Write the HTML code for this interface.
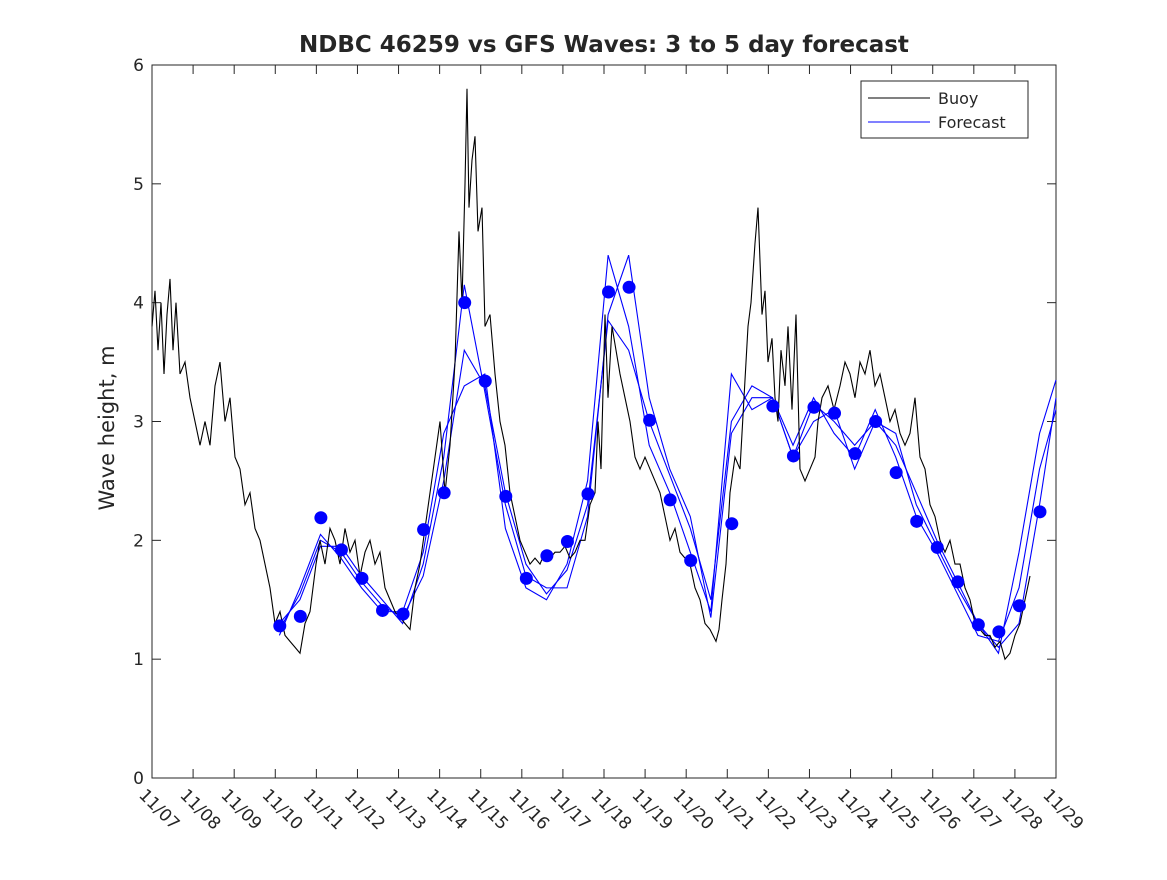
<!DOCTYPE html>
<html><head><meta charset="utf-8"><style>
body{margin:0;background:#fff;font-family:"Liberation Sans","DejaVu Sans",sans-serif}
svg text{font-family:"DejaVu Sans","Liberation Sans",sans-serif;fill:#262626}
</style></head><body>
<svg id="c" width="1167" height="875" xmlns="http://www.w3.org/2000/svg">
<rect width="1167" height="875" fill="#fff"/>
<text x="604" y="52" text-anchor="middle" font-size="23" font-weight="bold">NDBC 46259 vs GFS Waves: 3 to 5 day forecast</text>
<text transform="translate(114,428) rotate(-90)" text-anchor="middle" font-size="21">Wave height, m</text>
<g id="axes"></g><g id="series"></g>
<g>
<rect x="861" y="81" width="167" height="57" fill="#fff" stroke="#262626" stroke-width="1"/>
<line x1="868" y1="98" x2="930" y2="98" stroke="#000"/>
<text x="938" y="104" font-size="16">Buoy</text>
<line x1="868" y1="122" x2="930" y2="122" stroke="#00f"/>
<text x="938" y="128" font-size="16">Forecast</text>
</g>
</svg>
<script>
const xTickLabels=["11/07","11/08","11/09","11/10","11/11","11/12","11/13","11/14","11/15","11/16","11/17","11/18","11/19","11/20","11/21","11/22","11/23","11/24","11/25","11/26","11/27","11/28","11/29"];
const yTicks=[0,1,2,3,4,5,6];
const buoyX=[152,155,158,161,164,167,170,173,176,180,185,190,195,200,205,210,215,220,225,230,235,240,245,250,255,260,265,270,275,280,285,290,295,300,305,310,316,320,325,330,335,340,345,350,355,360,365,370,375,380,385,390,395,400,405,410,415,420,425,430,435,440,445,450,455,459,462,465,467,469,472,475,478,482,485,490,495,500,505,510,515,520,525,530,535,540,545,550,555,560,565,570,575,580,585,590,595,598,601,605,608,612,616,620,625,630,635,640,645,650,655,660,665,670,675,680,685,690,695,700,705,710,713,716,719,722,726,730,735,740,744,748,751,755,758,762,765,768,772,775,778,781,785,788,792,796,800,805,810,815,818,822,828,834,840,845,850,855,860,865,870,875,880,885,890,895,900,905,910,915,920,925,930,935,940,945,950,955,960,965,970,975,980,985,990,995,1000,1005,1010,1015,1020,1025,1030];
const buoyV=[3.8,4.1,3.6,4.0,3.4,3.9,4.2,3.6,4.0,3.4,3.5,3.2,3.0,2.8,3.0,2.8,3.3,3.5,3.0,3.2,2.7,2.6,2.3,2.4,2.1,2.0,1.8,1.6,1.3,1.4,1.2,1.15,1.1,1.05,1.3,1.4,1.8,2.0,1.8,2.1,2.0,1.8,2.1,1.9,2.0,1.7,1.9,2.0,1.8,1.9,1.6,1.5,1.4,1.35,1.3,1.25,1.6,1.8,2.1,2.4,2.7,3.0,2.4,2.8,3.5,4.6,4.0,5.0,5.8,4.8,5.2,5.4,4.6,4.8,3.8,3.9,3.4,3.0,2.8,2.4,2.2,2.0,1.9,1.8,1.85,1.8,1.9,1.85,1.9,1.9,1.95,1.85,1.9,2.0,2.0,2.3,2.4,3.0,2.6,3.9,3.2,3.8,3.6,3.4,3.2,3.0,2.7,2.6,2.7,2.6,2.5,2.4,2.2,2.0,2.1,1.9,1.85,1.8,1.6,1.5,1.3,1.25,1.2,1.15,1.25,1.5,1.8,2.4,2.7,2.6,3.2,3.8,4.0,4.5,4.8,3.9,4.1,3.5,3.7,3.2,3.0,3.6,3.3,3.8,3.1,3.9,2.6,2.5,2.6,2.7,3.0,3.2,3.3,3.1,3.3,3.5,3.4,3.2,3.5,3.4,3.6,3.3,3.4,3.2,3.0,3.1,2.9,2.8,2.9,3.2,2.7,2.6,2.3,2.2,2.0,1.9,2.0,1.8,1.8,1.6,1.5,1.3,1.25,1.2,1.2,1.1,1.15,1.0,1.05,1.2,1.3,1.5,1.7];
const dotT=[3.11,3.61,4.11,4.61,5.11,5.61,6.11,6.61,7.11,7.61,8.11,8.61,9.11,9.61,10.11,10.61,11.11,11.61,12.11,12.61,13.11,14.11,15.11,15.61,16.11,16.61,17.11,17.61,18.11,18.61,19.11,19.61,20.11,20.61,21.11,21.61];
const dotV=[1.28,1.36,2.19,1.92,1.68,1.41,1.38,2.09,2.40,4.00,3.34,2.37,1.68,1.87,1.99,2.39,4.09,4.13,3.01,2.34,1.83,2.14,3.13,2.71,3.12,3.07,2.73,3.00,2.57,2.16,1.94,1.65,1.29,1.23,1.45,2.24];
const fT=[3.1,3.6,4.1,4.6,5.1,5.6,6.1,6.6,7.1,7.6,8.1,8.6,9.1,9.6,10.1,10.6,11.1,11.6,12.1,12.6,13.1,13.6,14.1,14.6,15.1,15.6,16.1,16.6,17.1,17.6,18.1,18.6,19.1,19.6,20.1,20.6,21.1,21.6,22.0];
const fA=[1.25,1.55,2.0,1.9,1.65,1.45,1.35,1.7,2.5,3.6,3.3,2.4,1.8,1.55,1.75,2.3,3.85,3.6,3.0,2.55,2.1,1.5,3.0,3.3,3.2,2.7,3.15,3.0,2.8,3.0,2.9,2.3,1.95,1.6,1.3,1.1,1.3,2.3,3.2];
const fB=[1.2,1.6,2.05,1.85,1.6,1.4,1.4,1.9,2.9,3.3,3.4,2.1,1.6,1.5,1.8,2.5,4.4,3.8,2.8,2.4,1.9,1.4,3.4,3.1,3.2,2.8,3.2,2.9,2.7,3.1,2.7,2.2,1.9,1.55,1.2,1.15,1.6,2.6,3.1];
const fC=[1.3,1.5,1.95,1.95,1.7,1.5,1.3,1.8,2.7,4.15,3.25,2.3,1.7,1.6,1.6,2.2,3.9,4.4,3.2,2.6,2.2,1.35,2.9,3.2,3.2,2.7,3.0,3.1,2.6,3.0,2.8,2.4,2.0,1.65,1.3,1.05,1.9,2.9,3.35];
const X0=152,X1=1056,Y0=778,Y1=65;
const sx=d=>X0+(X1-X0)*d/22, sy=v=>Y0-(Y0-Y1)*v/6;
const NS="http://www.w3.org/2000/svg";
function mk(tag,attrs,parent){const e=document.createElementNS(NS,tag);for(const k in attrs)e.setAttribute(k,attrs[k]);parent.appendChild(e);return e;}
const ax=document.getElementById('axes'), se=document.getElementById('series');
const frame=mk('rect',{x:X0,y:Y1,width:X1-X0,height:Y0-Y1,fill:'none',stroke:'#262626','stroke-width':1},ax);


yTicks.forEach(v=>{
 const y=sy(v);
 mk('line',{x1:X0,x2:X0+9,y1:y,y2:y,stroke:'#262626'},ax);
 mk('line',{x1:X1,x2:X1-9,y1:y,y2:y,stroke:'#262626'},ax);
 const t=mk('text',{x:X0-8,y:y+6,'text-anchor':'end','font-size':17},ax);t.textContent=v;
 
 
});
xTickLabels.forEach((l,i)=>{
 const x=sx(i);
 mk('line',{x1:x,x2:x,y1:Y0,y2:Y0-9,stroke:'#262626'},ax);
 mk('line',{x1:x,x2:x,y1:Y1,y2:Y1+9,stroke:'#262626'},ax);
 const t=mk('text',{transform:`translate(${x-14},${Y0+18}) rotate(45)`,'font-size':17},ax);t.textContent=l;
 
 
});
[fA,fB,fC].forEach((s,j)=>{
 const p=mk('polyline',{points:s.map((v,i)=>sx(fT[i])+','+sy(v)).join(' '),fill:'none',stroke:'#00f','stroke-width':1.1},se);
 
 
});
const b=mk('polyline',{points:buoyV.map((v,i)=>buoyX[i]+','+sy(v)).join(' '),fill:'none',stroke:'#000','stroke-width':1.1},se);


dotV.forEach((v,i)=>{
 const c=mk('circle',{cx:sx(dotT[i]),cy:sy(v),r:6.5,fill:'#00f'},se);
 
 
});
</script>
</body></html>
